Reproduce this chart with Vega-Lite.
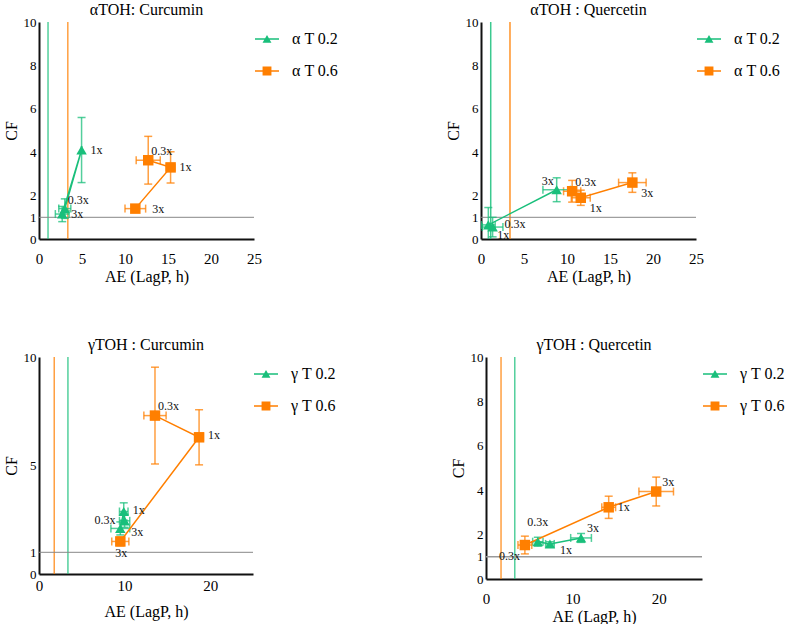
{
"$schema": "https://vega.github.io/schema/vega-lite/v6.json",
"padding": {"left": 3, "top": 2, "right": 0, "bottom": 0},
"config": {
  "view": {"stroke": null},
  "font": "Liberation Serif, DejaVu Serif, serif",
  "title": {"font": "Liberation Serif, DejaVu Serif, serif", "fontSize": 16, "fontWeight": "normal", "offset": -2, "anchor": "middle", "frame": "group", "color": "black"},
  "axis": {"ticks": false, "grid": false, "domainColor": "#111", "domainWidth": 2, "labelFont": "Liberation Serif, DejaVu Serif, serif", "labelColor": "black", "titleFont": "Liberation Serif, DejaVu Serif, serif", "titleFontWeight": "normal", "titleColor": "black", "titleFontSize": 16, "labelFlush": false, "labelOverlap": false, "tickCount": 12},
  "axisX": {"labelFontSize": 15, "labelPadding": 12, "titlePadding": 2},
  "axisY": {"labelFontSize": 13, "labelPadding": 3, "titlePadding": 4},
  "text": {"font": "Liberation Serif, DejaVu Serif, serif", "fontSize": 12, "color": "#111", "baseline": "middle"},
  "legend": {"title": null, "offset": -4, "padding": 5, "rowPadding": 12, "labelFont": "Liberation Serif, DejaVu Serif, serif", "labelFontSize": 16, "labelColor": "black", "labelOffset": 13, "symbolSize": 576, "symbolStrokeWidth": 0, "symbolOpacity": 1}
},
"datasets": {
  "aC": [
    {"series": "α T 0.2", "dose": "0.3x", "x": 3.0, "y": 1.4, "xe": 0.7, "ye": 0.45},
    {"series": "α T 0.2", "dose": "1x", "x": 4.95, "y": 4.1, "xe": 0, "ye": 1.5},
    {"series": "α T 0.2", "dose": "3x", "x": 2.7, "y": 1.15, "xe": 0.8, "ye": 0.35},
    {"series": "α T 0.6", "dose": "0.3x", "x": 12.7, "y": 3.63, "xe": 1.4, "ye": 1.1},
    {"series": "α T 0.6", "dose": "1x", "x": 15.3, "y": 3.3, "xe": 0.5, "ye": 0.72},
    {"series": "α T 0.6", "dose": "3x", "x": 11.2, "y": 1.4, "xe": 1.2, "ye": 0.15}
  ],
  "aQ": [
    {"series": "α T 0.2", "dose": "0.3x", "x": 1.35, "y": 0.55, "xe": 1.2, "ye": 0.45},
    {"series": "α T 0.2", "dose": "1x", "x": 0.85, "y": 0.65, "xe": 0.8, "ye": 0.8},
    {"series": "α T 0.2", "dose": "3x", "x": 8.8, "y": 2.27, "xe": 1.6, "ye": 0.55},
    {"series": "α T 0.6", "dose": "0.3x", "x": 10.6, "y": 2.2, "xe": 1.0, "ye": 0.5},
    {"series": "α T 0.6", "dose": "1x", "x": 11.6, "y": 1.9, "xe": 1.1, "ye": 0.35},
    {"series": "α T 0.6", "dose": "3x", "x": 17.6, "y": 2.6, "xe": 1.6, "ye": 0.45}
  ],
  "gC": [
    {"series": "γ T 0.2", "dose": "0.3x", "x": 10.0, "y": 2.45, "xe": 0.6, "ye": 0.3},
    {"series": "γ T 0.2", "dose": "1x", "x": 9.9, "y": 2.88, "xe": 0.5, "ye": 0.4},
    {"series": "γ T 0.2", "dose": "3x", "x": 9.5, "y": 2.1, "xe": 1.1, "ye": 0.3},
    {"series": "γ T 0.6", "dose": "0.3x", "x": 13.55, "y": 7.3, "xe": 1.3, "ye": 2.23},
    {"series": "γ T 0.6", "dose": "1x", "x": 18.7, "y": 6.3, "xe": 0.5, "ye": 1.27},
    {"series": "γ T 0.6", "dose": "3x", "x": 9.5, "y": 1.5, "xe": 1.0, "ye": 0.2}
  ],
  "gQ": [
    {"series": "γ T 0.2", "dose": "0.3x", "x": 6.0, "y": 1.68, "xe": 0.6, "ye": 0.2},
    {"series": "γ T 0.2", "dose": "1x", "x": 7.4, "y": 1.58, "xe": 0.5, "ye": 0.1},
    {"series": "γ T 0.2", "dose": "3x", "x": 11.0, "y": 1.85, "xe": 1.2, "ye": 0.2},
    {"series": "γ T 0.6", "dose": "0.3x", "x": 4.5, "y": 1.53, "xe": 0.8, "ye": 0.4},
    {"series": "γ T 0.6", "dose": "1x", "x": 14.2, "y": 3.23, "xe": 0.8, "ye": 0.5},
    {"series": "γ T 0.6", "dose": "3x", "x": 19.7, "y": 3.94, "xe": 2.0, "ye": 0.65}
  ],
  "aC_ref": [{"series": "α T 0.2", "x": 1.05}, {"series": "α T 0.6", "x": 3.35}],
  "aQ_ref": [{"series": "α T 0.2", "x": 1.13}, {"series": "α T 0.6", "x": 3.37}],
  "gC_ref": [{"series": "γ T 0.6", "x": 1.78}, {"series": "γ T 0.2", "x": 3.38}],
  "gQ_ref": [{"series": "γ T 0.6", "x": 1.74}, {"series": "γ T 0.2", "x": 3.33}],
  "one": [{"cf": 1}]
},
"resolve": {"scale": {"color": "independent", "shape": "independent"}, "legend": {"color": "independent", "shape": "independent"}},
"spacing": 53,
"vconcat": [
 {"hconcat": [
  {"width": 215, "height": 217, "title": "αTOH: Curcumin",
   "layer": [
    {"data": {"name": "aC_ref"}, "mark": {"type": "rule", "strokeWidth": 1.5, "opacity": 0.75},
     "encoding": {"x": {"field": "x", "type": "quantitative", "title": "AE (LagP, h)", "scale": {"domain": [0, 25], "nice": false}, "axis": {"values": [0, 5, 10, 15, 20, 25]}},
       "color": {"field": "series", "type": "nominal", "scale": {"domain": ["α T 0.2", "α T 0.6"], "range": ["#19bf7b", "#ff7f00"]}}}},
    {"data": {"name": "one"}, "mark": {"type": "rule", "color": "#888", "strokeWidth": 1},
     "encoding": {"y": {"field": "cf", "type": "quantitative", "title": "CF", "scale": {"domain": [0, 10], "nice": false}, "axis": {"values": [0, 1, 2, 4, 6, 8, 10]}}}},
    {"data": {"name": "aC"}, "mark": {"type": "errorbar", "ticks": {"size": 8, "opacity": 0.75}, "rule": {"opacity": 0.75}, "thickness": 1.5},
     "encoding": {"x": {"field": "x", "type": "quantitative", "title": "AE (LagP, h)"}, "xError": {"field": "xe"}, "y": {"field": "y", "type": "quantitative", "title": "CF"}, "color": {"field": "series", "type": "nominal"}}},
    {"data": {"name": "aC"}, "mark": {"type": "errorbar", "ticks": {"size": 8, "opacity": 0.75}, "rule": {"opacity": 0.75}, "thickness": 1.5},
     "encoding": {"y": {"field": "y", "type": "quantitative", "title": "CF"}, "yError": {"field": "ye"}, "x": {"field": "x", "type": "quantitative", "title": "AE (LagP, h)"}, "color": {"field": "series", "type": "nominal"}}},
    {"data": {"name": "aC"}, "mark": {"type": "line", "strokeWidth": 1.5},
     "encoding": {"x": {"field": "x", "type": "quantitative", "title": "AE (LagP, h)"}, "y": {"field": "y", "type": "quantitative", "title": "CF"}, "color": {"field": "series", "type": "nominal"}, "order": {"field": "dose", "type": "ordinal"}}},
    {"data": {"name": "aC"}, "transform": [{"filter": "datum.series == 'α T 0.2'"}], "mark": {"type": "point", "shape": "triangle-up", "filled": true, "size": 110, "opacity": 1},
     "encoding": {"x": {"field": "x", "type": "quantitative", "title": "AE (LagP, h)"}, "y": {"field": "y", "type": "quantitative", "title": "CF"}, "color": {"field": "series", "type": "nominal"}}},
    {"data": {"name": "aC"}, "transform": [{"filter": "datum.series == 'α T 0.6'"}], "mark": {"type": "point", "shape": "square", "filled": true, "size": 110, "opacity": 1},
     "encoding": {"x": {"field": "x", "type": "quantitative", "title": "AE (LagP, h)"}, "y": {"field": "y", "type": "quantitative", "title": "CF"}, "color": {"field": "series", "type": "nominal"}}},
    {"data": {"name": "aC"}, "transform": [{"filter": "datum.x < -1000"}], "mark": {"type": "point", "filled": true, "size": 576, "opacity": 1},
     "encoding": {"x": {"field": "x", "type": "quantitative", "title": "AE (LagP, h)"}, "y": {"field": "y", "type": "quantitative", "title": "CF"}, "color": {"field": "series", "type": "nominal"},
       "shape": {"field": "series", "type": "nominal", "scale": {"domain": ["α T 0.2", "α T 0.6"], "range": ["M-1,-0.07H1V0.07H-1Z M-0.37,0.32L0,-0.34L0.37,0.32Z", "M-1,-0.07H1V0.07H-1Z M-0.37,-0.37H0.37V0.37H-0.37Z"]}}}},
    {"data": {"name": "aC"}, "transform": [{"filter": "datum.dose == '0.3x'"}],
     "mark": {"type": "text", "align": "left", "dx": 3, "dy": -9},
     "encoding": {"x": {"field": "x", "type": "quantitative", "title": "AE (LagP, h)"}, "y": {"field": "y", "type": "quantitative", "title": "CF"}, "text": {"field": "dose"}}},
    {"data": {"name": "aC"}, "transform": [{"filter": "datum.dose == '1x' || (datum.series == 'α T 0.2' && datum.dose == '3x')"}],
     "mark": {"type": "text", "align": "left", "dx": 9, "dy": 0},
     "encoding": {"x": {"field": "x", "type": "quantitative", "title": "AE (LagP, h)"}, "y": {"field": "y", "type": "quantitative", "title": "CF"}, "text": {"field": "dose"}}},
    {"data": {"name": "aC"}, "transform": [{"filter": "datum.series == 'α T 0.6' && datum.dose == '3x'"}],
     "mark": {"type": "text", "align": "left", "dx": 17, "dy": 0},
     "encoding": {"x": {"field": "x", "type": "quantitative", "title": "AE (LagP, h)"}, "y": {"field": "y", "type": "quantitative", "title": "CF"}, "text": {"field": "dose"}}}
   ]},
  {"width": 215, "height": 217, "title": "αTOH : Quercetin",
   "layer": [
    {"data": {"name": "aQ_ref"}, "mark": {"type": "rule", "strokeWidth": 1.5, "opacity": 0.85},
     "encoding": {"x": {"field": "x", "type": "quantitative", "title": "AE (LagP, h)", "scale": {"domain": [0, 25], "nice": false}, "axis": {"values": [0, 5, 10, 15, 20, 25]}},
       "color": {"field": "series", "type": "nominal", "scale": {"domain": ["α T 0.2", "α T 0.6"], "range": ["#19bf7b", "#ff7f00"]}}}},
    {"data": {"name": "one"}, "mark": {"type": "rule", "color": "#888", "strokeWidth": 1},
     "encoding": {"y": {"field": "cf", "type": "quantitative", "title": "CF", "scale": {"domain": [0, 10], "nice": false}, "axis": {"values": [0, 1, 2, 4, 6, 8, 10]}}}},
    {"data": {"name": "aQ"}, "mark": {"type": "errorbar", "clip": true, "ticks": {"size": 8, "opacity": 0.75}, "rule": {"opacity": 0.75}, "thickness": 1.5},
     "encoding": {"x": {"field": "x", "type": "quantitative", "title": "AE (LagP, h)"}, "xError": {"field": "xe"}, "y": {"field": "y", "type": "quantitative", "title": "CF"}, "color": {"field": "series", "type": "nominal"}}},
    {"data": {"name": "aQ"}, "mark": {"type": "errorbar", "clip": true, "ticks": {"size": 8, "opacity": 0.75}, "rule": {"opacity": 0.75}, "thickness": 1.5},
     "encoding": {"y": {"field": "y", "type": "quantitative", "title": "CF"}, "yError": {"field": "ye"}, "x": {"field": "x", "type": "quantitative", "title": "AE (LagP, h)"}, "color": {"field": "series", "type": "nominal"}}},
    {"data": {"name": "aQ"}, "mark": {"type": "line", "strokeWidth": 1.5},
     "encoding": {"x": {"field": "x", "type": "quantitative", "title": "AE (LagP, h)"}, "y": {"field": "y", "type": "quantitative", "title": "CF"}, "color": {"field": "series", "type": "nominal"}, "order": {"field": "dose", "type": "ordinal"}}},
    {"data": {"name": "aQ"}, "transform": [{"filter": "datum.series == 'α T 0.2'"}], "mark": {"type": "point", "shape": "triangle-up", "filled": true, "size": 110, "opacity": 1},
     "encoding": {"x": {"field": "x", "type": "quantitative", "title": "AE (LagP, h)"}, "y": {"field": "y", "type": "quantitative", "title": "CF"}, "color": {"field": "series", "type": "nominal"}}},
    {"data": {"name": "aQ"}, "transform": [{"filter": "datum.series == 'α T 0.6'"}], "mark": {"type": "point", "shape": "square", "filled": true, "size": 110, "opacity": 1},
     "encoding": {"x": {"field": "x", "type": "quantitative", "title": "AE (LagP, h)"}, "y": {"field": "y", "type": "quantitative", "title": "CF"}, "color": {"field": "series", "type": "nominal"}}},
    {"data": {"name": "aQ"}, "transform": [{"filter": "datum.x < -1000"}], "mark": {"type": "point", "filled": true, "size": 576, "opacity": 1},
     "encoding": {"x": {"field": "x", "type": "quantitative", "title": "AE (LagP, h)"}, "y": {"field": "y", "type": "quantitative", "title": "CF"}, "color": {"field": "series", "type": "nominal"},
       "shape": {"field": "series", "type": "nominal", "scale": {"domain": ["α T 0.2", "α T 0.6"], "range": ["M-1,-0.07H1V0.07H-1Z M-0.37,0.32L0,-0.34L0.37,0.32Z", "M-1,-0.07H1V0.07H-1Z M-0.37,-0.37H0.37V0.37H-0.37Z"]}}}},
    {"data": {"name": "aQ"}, "transform": [{"filter": "datum.series == 'α T 0.2' && datum.dose == '0.3x'"}],
     "mark": {"type": "text", "align": "left", "dx": 12, "dy": -3},
     "encoding": {"x": {"field": "x", "type": "quantitative", "title": "AE (LagP, h)"}, "y": {"field": "y", "type": "quantitative", "title": "CF"}, "text": {"field": "dose"}}},
    {"data": {"name": "aQ"}, "transform": [{"filter": "datum.dose == '1x' || (datum.series == 'α T 0.6' && datum.dose == '3x')"}],
     "mark": {"type": "text", "align": "left", "dx": 9, "dy": 10},
     "encoding": {"x": {"field": "x", "type": "quantitative", "title": "AE (LagP, h)"}, "y": {"field": "y", "type": "quantitative", "title": "CF"}, "text": {"field": "dose"}}},
    {"data": {"name": "aQ"}, "transform": [{"filter": "datum.series == 'α T 0.2' && datum.dose == '3x'"}],
     "mark": {"type": "text", "align": "right", "dx": -3, "dy": -9},
     "encoding": {"x": {"field": "x", "type": "quantitative", "title": "AE (LagP, h)"}, "y": {"field": "y", "type": "quantitative", "title": "CF"}, "text": {"field": "dose"}}},
    {"data": {"name": "aQ"}, "transform": [{"filter": "datum.series == 'α T 0.6' && datum.dose == '0.3x'"}],
     "mark": {"type": "text", "align": "left", "dx": 3, "dy": -9},
     "encoding": {"x": {"field": "x", "type": "quantitative", "title": "AE (LagP, h)"}, "y": {"field": "y", "type": "quantitative", "title": "CF"}, "text": {"field": "dose"}}}
   ]}
 ], "spacing": 101, "resolve": {"scale": {"color": "independent", "shape": "independent"}, "legend": {"color": "independent", "shape": "independent"}}},
 {"hconcat": [
  {"width": 214, "height": 217, "title": "γTOH : Curcumin",
   "layer": [
    {"data": {"name": "gC_ref"}, "mark": {"type": "rule", "strokeWidth": 1.5, "opacity": 0.75},
     "encoding": {"x": {"field": "x", "type": "quantitative", "title": "AE (LagP, h)", "scale": {"domain": [0, 25], "nice": false}, "axis": {"values": [0, 10, 20], "labelPadding": 4, "titlePadding": 10}},
       "color": {"field": "series", "type": "nominal", "scale": {"domain": ["γ T 0.2", "γ T 0.6"], "range": ["#19bf7b", "#ff7f00"]}}}},
    {"data": {"name": "one"}, "mark": {"type": "rule", "color": "#888", "strokeWidth": 1},
     "encoding": {"y": {"field": "cf", "type": "quantitative", "title": "CF", "scale": {"domain": [0, 10], "nice": false}, "axis": {"values": [0, 1, 5, 10]}}}},
    {"data": {"name": "gC"}, "mark": {"type": "errorbar", "ticks": {"size": 8, "opacity": 0.75}, "rule": {"opacity": 0.75}, "thickness": 1.5},
     "encoding": {"x": {"field": "x", "type": "quantitative", "title": "AE (LagP, h)"}, "xError": {"field": "xe"}, "y": {"field": "y", "type": "quantitative", "title": "CF"}, "color": {"field": "series", "type": "nominal"}}},
    {"data": {"name": "gC"}, "mark": {"type": "errorbar", "ticks": {"size": 8, "opacity": 0.75}, "rule": {"opacity": 0.75}, "thickness": 1.5},
     "encoding": {"y": {"field": "y", "type": "quantitative", "title": "CF"}, "yError": {"field": "ye"}, "x": {"field": "x", "type": "quantitative", "title": "AE (LagP, h)"}, "color": {"field": "series", "type": "nominal"}}},
    {"data": {"name": "gC"}, "mark": {"type": "line", "strokeWidth": 1.5},
     "encoding": {"x": {"field": "x", "type": "quantitative", "title": "AE (LagP, h)"}, "y": {"field": "y", "type": "quantitative", "title": "CF"}, "color": {"field": "series", "type": "nominal"}, "order": {"field": "dose", "type": "ordinal"}}},
    {"data": {"name": "gC"}, "transform": [{"filter": "datum.series == 'γ T 0.2'"}], "mark": {"type": "point", "shape": "triangle-up", "filled": true, "size": 110, "opacity": 1},
     "encoding": {"x": {"field": "x", "type": "quantitative", "title": "AE (LagP, h)"}, "y": {"field": "y", "type": "quantitative", "title": "CF"}, "color": {"field": "series", "type": "nominal"}}},
    {"data": {"name": "gC"}, "transform": [{"filter": "datum.series == 'γ T 0.6'"}], "mark": {"type": "point", "shape": "square", "filled": true, "size": 110, "opacity": 1},
     "encoding": {"x": {"field": "x", "type": "quantitative", "title": "AE (LagP, h)"}, "y": {"field": "y", "type": "quantitative", "title": "CF"}, "color": {"field": "series", "type": "nominal"}}},
    {"data": {"name": "gC"}, "transform": [{"filter": "datum.x < -1000"}], "mark": {"type": "point", "filled": true, "size": 576, "opacity": 1},
     "encoding": {"x": {"field": "x", "type": "quantitative", "title": "AE (LagP, h)"}, "y": {"field": "y", "type": "quantitative", "title": "CF"}, "color": {"field": "series", "type": "nominal"},
       "shape": {"field": "series", "type": "nominal", "scale": {"domain": ["γ T 0.2", "γ T 0.6"], "range": ["M-1,-0.07H1V0.07H-1Z M-0.37,0.32L0,-0.34L0.37,0.32Z", "M-1,-0.07H1V0.07H-1Z M-0.37,-0.37H0.37V0.37H-0.37Z"]}}}},
    {"data": {"name": "gC"}, "transform": [{"filter": "datum.series == 'γ T 0.2' && datum.dose == '0.3x'"}],
     "mark": {"type": "text", "align": "right", "dx": -9, "dy": -1},
     "encoding": {"x": {"field": "x", "type": "quantitative", "title": "AE (LagP, h)"}, "y": {"field": "y", "type": "quantitative", "title": "CF"}, "text": {"field": "dose"}}},
    {"data": {"name": "gC"}, "transform": [{"filter": "datum.dose == '1x'"}],
     "mark": {"type": "text", "align": "left", "dx": 9, "dy": -2},
     "encoding": {"x": {"field": "x", "type": "quantitative", "title": "AE (LagP, h)"}, "y": {"field": "y", "type": "quantitative", "title": "CF"}, "text": {"field": "dose"}}},
    {"data": {"name": "gC"}, "transform": [{"filter": "datum.series == 'γ T 0.2' && datum.dose == '3x'"}],
     "mark": {"type": "text", "align": "left", "dx": 11, "dy": 4},
     "encoding": {"x": {"field": "x", "type": "quantitative", "title": "AE (LagP, h)"}, "y": {"field": "y", "type": "quantitative", "title": "CF"}, "text": {"field": "dose"}}},
    {"data": {"name": "gC"}, "transform": [{"filter": "datum.series == 'γ T 0.6' && datum.dose == '0.3x'"}],
     "mark": {"type": "text", "align": "left", "dx": 3, "dy": -10},
     "encoding": {"x": {"field": "x", "type": "quantitative", "title": "AE (LagP, h)"}, "y": {"field": "y", "type": "quantitative", "title": "CF"}, "text": {"field": "dose"}}},
    {"data": {"name": "gC"}, "transform": [{"filter": "datum.series == 'γ T 0.6' && datum.dose == '3x'"}],
     "mark": {"type": "text", "align": "center", "dx": 1, "dy": 12},
     "encoding": {"x": {"field": "x", "type": "quantitative", "title": "AE (LagP, h)"}, "y": {"field": "y", "type": "quantitative", "title": "CF"}, "text": {"field": "dose"}}}
   ]},
  {"width": 216, "height": 222, "title": "γTOH : Quercetin",
   "layer": [
    {"data": {"name": "gQ_ref"}, "mark": {"type": "rule", "strokeWidth": 1.5, "opacity": 0.75},
     "encoding": {"x": {"field": "x", "type": "quantitative", "title": "AE (LagP, h)", "scale": {"domain": [0, 25], "nice": false}, "axis": {"values": [0, 10, 20]}},
       "color": {"field": "series", "type": "nominal", "scale": {"domain": ["γ T 0.2", "γ T 0.6"], "range": ["#19bf7b", "#ff7f00"]}}}},
    {"data": {"name": "one"}, "mark": {"type": "rule", "color": "#999", "strokeWidth": 1.5},
     "encoding": {"y": {"field": "cf", "type": "quantitative", "title": "CF", "scale": {"domain": [0, 10], "nice": false}, "axis": {"values": [0, 1, 2, 4, 6, 8, 10]}}}},
    {"data": {"name": "gQ"}, "mark": {"type": "errorbar", "ticks": {"size": 8, "opacity": 0.75}, "rule": {"opacity": 0.75}, "thickness": 1.5},
     "encoding": {"x": {"field": "x", "type": "quantitative", "title": "AE (LagP, h)"}, "xError": {"field": "xe"}, "y": {"field": "y", "type": "quantitative", "title": "CF"}, "color": {"field": "series", "type": "nominal"}}},
    {"data": {"name": "gQ"}, "mark": {"type": "errorbar", "ticks": {"size": 8, "opacity": 0.75}, "rule": {"opacity": 0.75}, "thickness": 1.5},
     "encoding": {"y": {"field": "y", "type": "quantitative", "title": "CF"}, "yError": {"field": "ye"}, "x": {"field": "x", "type": "quantitative", "title": "AE (LagP, h)"}, "color": {"field": "series", "type": "nominal"}}},
    {"data": {"name": "gQ"}, "mark": {"type": "line", "strokeWidth": 1.5},
     "encoding": {"x": {"field": "x", "type": "quantitative", "title": "AE (LagP, h)"}, "y": {"field": "y", "type": "quantitative", "title": "CF"}, "color": {"field": "series", "type": "nominal"}, "order": {"field": "dose", "type": "ordinal"}}},
    {"data": {"name": "gQ"}, "transform": [{"filter": "datum.series == 'γ T 0.2'"}], "mark": {"type": "point", "shape": "triangle-up", "filled": true, "size": 110, "opacity": 1},
     "encoding": {"x": {"field": "x", "type": "quantitative", "title": "AE (LagP, h)"}, "y": {"field": "y", "type": "quantitative", "title": "CF"}, "color": {"field": "series", "type": "nominal"}}},
    {"data": {"name": "gQ"}, "transform": [{"filter": "datum.series == 'γ T 0.6'"}], "mark": {"type": "point", "shape": "square", "filled": true, "size": 110, "opacity": 1},
     "encoding": {"x": {"field": "x", "type": "quantitative", "title": "AE (LagP, h)"}, "y": {"field": "y", "type": "quantitative", "title": "CF"}, "color": {"field": "series", "type": "nominal"}}},
    {"data": {"name": "gQ"}, "transform": [{"filter": "datum.x < -1000"}], "mark": {"type": "point", "filled": true, "size": 576, "opacity": 1},
     "encoding": {"x": {"field": "x", "type": "quantitative", "title": "AE (LagP, h)"}, "y": {"field": "y", "type": "quantitative", "title": "CF"}, "color": {"field": "series", "type": "nominal"},
       "shape": {"field": "series", "type": "nominal", "scale": {"domain": ["γ T 0.2", "γ T 0.6"], "range": ["M-1,-0.07H1V0.07H-1Z M-0.37,0.32L0,-0.34L0.37,0.32Z", "M-1,-0.07H1V0.07H-1Z M-0.37,-0.37H0.37V0.37H-0.37Z"]}}}},
    {"data": {"name": "gQ"}, "transform": [{"filter": "datum.series == 'γ T 0.2' && datum.dose == '0.3x'"}],
     "mark": {"type": "text", "align": "center", "dx": 0, "dy": -20},
     "encoding": {"x": {"field": "x", "type": "quantitative", "title": "AE (LagP, h)"}, "y": {"field": "y", "type": "quantitative", "title": "CF"}, "text": {"field": "dose"}}},
    {"data": {"name": "gQ"}, "transform": [{"filter": "datum.series == 'γ T 0.2' && datum.dose == '1x'"}],
     "mark": {"type": "text", "align": "left", "dx": 10, "dy": 6},
     "encoding": {"x": {"field": "x", "type": "quantitative", "title": "AE (LagP, h)"}, "y": {"field": "y", "type": "quantitative", "title": "CF"}, "text": {"field": "dose"}}},
    {"data": {"name": "gQ"}, "transform": [{"filter": "datum.dose == '3x'"}],
     "mark": {"type": "text", "align": "left", "dx": 6, "dy": -10},
     "encoding": {"x": {"field": "x", "type": "quantitative", "title": "AE (LagP, h)"}, "y": {"field": "y", "type": "quantitative", "title": "CF"}, "text": {"field": "dose"}}},
    {"data": {"name": "gQ"}, "transform": [{"filter": "datum.series == 'γ T 0.6' && datum.dose == '0.3x'"}],
     "mark": {"type": "text", "align": "right", "dx": -5, "dy": 11},
     "encoding": {"x": {"field": "x", "type": "quantitative", "title": "AE (LagP, h)"}, "y": {"field": "y", "type": "quantitative", "title": "CF"}, "text": {"field": "dose"}}},
    {"data": {"name": "gQ"}, "transform": [{"filter": "datum.series == 'γ T 0.6' && datum.dose == '1x'"}],
     "mark": {"type": "text", "align": "left", "dx": 9, "dy": 0},
     "encoding": {"x": {"field": "x", "type": "quantitative", "title": "AE (LagP, h)"}, "y": {"field": "y", "type": "quantitative", "title": "CF"}, "text": {"field": "dose"}}}
   ]}
 ], "spacing": 109, "resolve": {"scale": {"color": "independent", "shape": "independent"}, "legend": {"color": "independent", "shape": "independent"}}}
]
}
